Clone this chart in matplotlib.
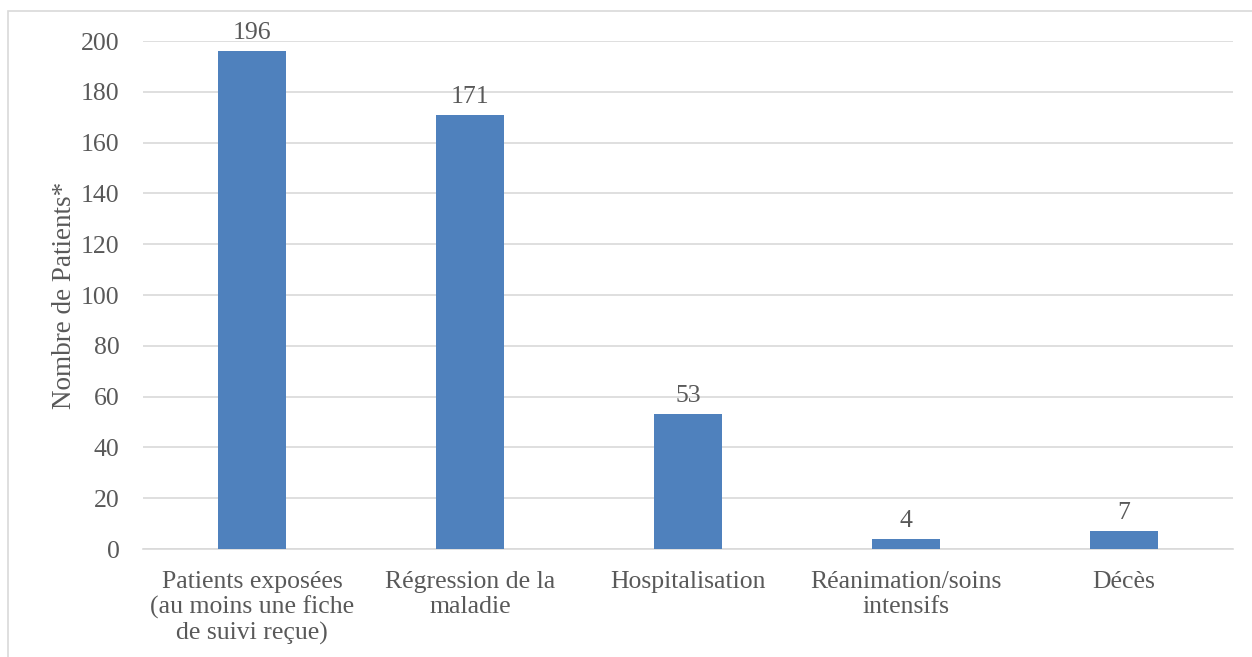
import matplotlib
matplotlib.use("Agg")
import matplotlib.pyplot as plt
from matplotlib.patches import Rectangle

categories = [
    "Patients exposées\n(au moins une fiche\nde suivi reçue)",
    "Régression de la\nmaladie",
    "Hospitalisation",
    "Réanimation/soins\nintensifs",
    "Décès",
]
values = [196, 171, 53, 4, 7]
yticks = [0, 20, 40, 60, 80, 100, 120, 140, 160, 180, 200]

plt.rcParams["font.family"] = ["Liberation Serif", "DejaVu Serif"]
text_color = "#595959"
bar_color = "#4F81BD"
grid_color = "#D9D9D9"
fs = 18.5

W, H = 1252, 657
fig = plt.figure(figsize=(W / 100, H / 100), dpi=100)

# outer chart frame
fig.patches.append(Rectangle((8 / W, -0.1), 1.2, 1 - 11 / H + 0.1,
                             transform=fig.transFigure, fill=False,
                             edgecolor="#D9D9D9", linewidth=1.2))

ax = fig.add_axes([143 / W, 1 - 549 / H, (1233 - 143) / W, (549 - 41) / H])
x = list(range(len(categories)))
bars = ax.bar(x, values, width=0.312, color=bar_color, zorder=3)

ax.set_xlim(-0.5, len(categories) - 0.5)
ax.set_ylim(0, 200)
ax.set_yticks(yticks)
ax.yaxis.grid(True, color=grid_color, linewidth=1.2, zorder=0)
for s in ["top", "right", "left"]:
    ax.spines[s].set_visible(False)
ax.spines["bottom"].set_color(grid_color)
ax.spines["bottom"].set_linewidth(1.2)
ax.tick_params(axis="both", length=0, labelsize=fs, colors=text_color)
ax.tick_params(axis="y", pad=17)
ax.tick_params(axis="x", pad=16)
ax.set_xticks(x)
ax.set_xticklabels(categories, linespacing=1.15)

for b, v in zip(bars, values):
    ax.annotate(str(v), (b.get_x() + b.get_width() / 2, v),
                xytext=(0, 5), textcoords="offset points",
                ha="center", va="bottom", fontsize=fs, color=text_color)

ax.set_ylabel("Nombre de Patients*", fontsize=19.5, color=text_color, labelpad=3)

fig.savefig("out.png", dpi=100)
